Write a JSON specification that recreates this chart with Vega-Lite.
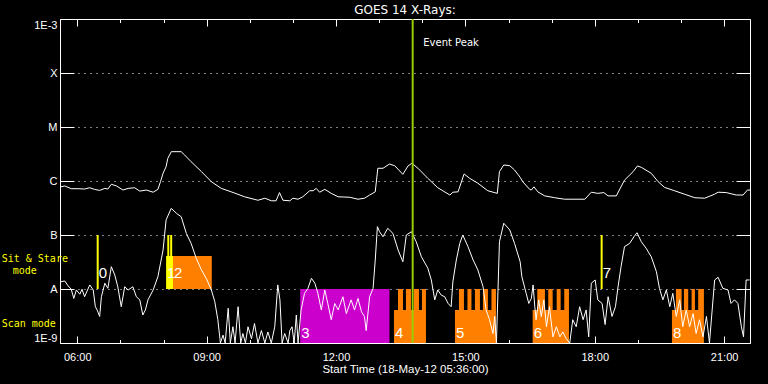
{
  "$schema": "https://vega.github.io/schema/vega-lite/v6.json",
  "width": 690,
  "height": 324,
  "autosize": {"type": "none"},
  "padding": {"left": 60, "top": 19, "right": 18, "bottom": 41},
  "background": "black",
  "config": {"view": {"stroke": "white", "strokeWidth": 1}, "font": "Liberation Sans"},
  "title": {"text": "GOES 14 X-Rays:", "color": "white", "font": "DejaVu Sans", "fontSize": 12, "fontWeight": "normal", "anchor": "middle", "baseline": "alphabetic", "offset": -8},
  "datasets": {
    "long": [
      {"hour":5.62,"flux":7.8e-7},{"hour":5.71,"flux":8.1e-7},{"hour":5.86,"flux":7.2e-7},{"hour":6.02,"flux":7.2e-7},{"hour":6.17,"flux":7.1e-7},{"hour":6.29,"flux":7.5e-7},{"hour":6.40,"flux":7.0e-7},{"hour":6.52,"flux":6.7e-7},{"hour":6.64,"flux":7.3e-7},{"hour":6.71,"flux":7.1e-7},{"hour":6.79,"flux":8.7e-7},{"hour":6.91,"flux":8.1e-7},{"hour":7.06,"flux":6.8e-7},{"hour":7.18,"flux":7.3e-7},{"hour":7.33,"flux":7.5e-7},{"hour":7.45,"flux":6.5e-7},{"hour":7.60,"flux":6.8e-7},{"hour":7.76,"flux":6.2e-7},{"hour":7.87,"flux":7.0e-7},{"hour":7.93,"flux":9.7e-7},{"hour":7.99,"flux":1.39e-6},{"hour":8.06,"flux":1.84e-6},{"hour":8.10,"flux":2.63e-6},{"hour":8.18,"flux":3.49e-6},{"hour":8.41,"flux":3.49e-6},{"hour":8.49,"flux":3.03e-6},{"hour":8.64,"flux":2.28e-6},{"hour":8.88,"flux":1.49e-6},{"hour":9.11,"flux":9.7e-7},{"hour":9.34,"flux":7.3e-7},{"hour":9.57,"flux":6.3e-7},{"hour":9.88,"flux":5.1e-7},{"hour":10.19,"flux":4.4e-7},{"hour":10.35,"flux":4.8e-7},{"hour":10.50,"flux":4.3e-7},{"hour":10.61,"flux":4.3e-7},{"hour":10.69,"flux":6.1e-7},{"hour":10.77,"flux":4.4e-7},{"hour":10.93,"flux":4.3e-7},{"hour":11.00,"flux":4.8e-7},{"hour":11.12,"flux":4.6e-7},{"hour":11.23,"flux":5.1e-7},{"hour":11.39,"flux":6.6e-7},{"hour":11.47,"flux":6.6e-7},{"hour":11.54,"flux":7.3e-7},{"hour":11.62,"flux":6.2e-7},{"hour":11.74,"flux":7.0e-7},{"hour":11.89,"flux":5.9e-7},{"hour":12.05,"flux":5.1e-7},{"hour":12.32,"flux":5.0e-7},{"hour":12.51,"flux":4.6e-7},{"hour":12.66,"flux":4.8e-7},{"hour":12.78,"flux":5.5e-7},{"hour":12.91,"flux":6.3e-7},{"hour":12.97,"flux":1.72e-6},{"hour":13.09,"flux":1.72e-6},{"hour":13.24,"flux":2.06e-6},{"hour":13.36,"flux":1.92e-6},{"hour":13.55,"flux":1.33e-6},{"hour":13.67,"flux":1.90e-6},{"hour":13.76,"flux":2.13e-6},{"hour":13.90,"flux":1.72e-6},{"hour":14.13,"flux":1.12e-6},{"hour":14.36,"flux":7.5e-7},{"hour":14.64,"flux":5.5e-7},{"hour":14.71,"flux":6.2e-7},{"hour":14.83,"flux":6.3e-7},{"hour":14.97,"flux":1.35e-6},{"hour":15.10,"flux":1.12e-6},{"hour":15.29,"flux":9.1e-7},{"hour":15.52,"flux":6.6e-7},{"hour":15.74,"flux":5.9e-7},{"hour":15.79,"flux":1.49e-6},{"hour":15.89,"flux":1.98e-6},{"hour":16.03,"flux":1.92e-6},{"hour":16.14,"flux":1.60e-6},{"hour":16.27,"flux":1.17e-6},{"hour":16.33,"flux":9.7e-7},{"hour":16.49,"flux":7.0e-7},{"hour":16.53,"flux":6.8e-7},{"hour":16.59,"flux":7.8e-7},{"hour":16.68,"flux":6.3e-7},{"hour":16.84,"flux":5.3e-7},{"hour":17.07,"flux":4.9e-7},{"hour":17.30,"flux":4.6e-7},{"hour":17.77,"flux":4.6e-7},{"hour":17.92,"flux":6.2e-7},{"hour":18.07,"flux":5.9e-7},{"hour":18.21,"flux":6.1e-7},{"hour":18.31,"flux":5.3e-7},{"hour":18.50,"flux":5.3e-7},{"hour":18.69,"flux":1.04e-6},{"hour":18.89,"flux":1.49e-6},{"hour":18.99,"flux":1.90e-6},{"hour":19.08,"flux":1.79e-6},{"hour":19.31,"flux":1.39e-6},{"hour":19.47,"flux":9.7e-7},{"hour":19.62,"flux":7.6e-7},{"hour":19.85,"flux":6.6e-7},{"hour":20.08,"flux":5.7e-7},{"hour":20.32,"flux":4.9e-7},{"hour":20.55,"flux":4.8e-7},{"hour":20.78,"flux":5.7e-7},{"hour":20.86,"flux":6.2e-7},{"hour":21.05,"flux":6.1e-7},{"hour":21.28,"flux":5.5e-7},{"hour":21.44,"flux":5.5e-7},{"hour":21.54,"flux":6.8e-7},{"hour":21.60,"flux":6.8e-7}
    ],
    "short": [
      {"hour":5.62,"flux":1.36e-8},{"hour":5.71,"flux":1.41e-8},{"hour":5.79,"flux":1.14e-8},{"hour":5.86,"flux":9.9e-9},{"hour":5.92,"flux":6.7e-9},{"hour":5.98,"flux":9.6e-9},{"hour":6.06,"flux":8.0e-9},{"hour":6.11,"flux":9.9e-9},{"hour":6.17,"flux":7.2e-9},{"hour":6.29,"flux":1.19e-8},{"hour":6.37,"flux":9.6e-9},{"hour":6.42,"flux":4.7e-9},{"hour":6.46,"flux":4.1e-9},{"hour":6.52,"flux":3.1e-9},{"hour":6.56,"flux":7.2e-9},{"hour":6.64,"flux":1.28e-8},{"hour":6.71,"flux":1.03e-8},{"hour":6.79,"flux":2.59e-8},{"hour":6.87,"flux":1.82e-8},{"hour":6.94,"flux":1.10e-8},{"hour":7.02,"flux":4.7e-9},{"hour":7.10,"flux":1.10e-8},{"hour":7.18,"flux":9.6e-9},{"hour":7.29,"flux":1.10e-8},{"hour":7.37,"flux":7.2e-9},{"hour":7.45,"flux":6.3e-9},{"hour":7.52,"flux":3.3e-9},{"hour":7.58,"flux":4.1e-9},{"hour":7.64,"flux":6.3e-9},{"hour":7.76,"flux":9.6e-9},{"hour":7.87,"flux":1.69e-8},{"hour":7.99,"flux":5.27e-8},{"hour":8.06,"flux":1.90e-7},{"hour":8.18,"flux":3.12e-7},{"hour":8.30,"flux":2.52e-7},{"hour":8.41,"flux":2.18e-7},{"hour":8.53,"flux":1.07e-7},{"hour":8.64,"flux":7.0e-8},{"hour":8.76,"flux":3.7e-8},{"hour":8.88,"flux":2.25e-8},{"hour":8.99,"flux":1.58e-8},{"hour":9.11,"flux":9.6e-9},{"hour":9.19,"flux":5.8e-9},{"hour":9.26,"flux":2.7e-9},{"hour":9.32,"flux":1.0e-9},{"hour":9.38,"flux":1.4e-9},{"hour":9.43,"flux":1.0e-9},{"hour":9.50,"flux":4.4e-9},{"hour":9.55,"flux":1.0e-9},{"hour":9.61,"flux":2.0e-9},{"hour":9.66,"flux":1.0e-9},{"hour":9.73,"flux":4.7e-9},{"hour":9.79,"flux":1.0e-9},{"hour":9.84,"flux":1.5e-9},{"hour":9.90,"flux":1.0e-9},{"hour":9.96,"flux":2.0e-9},{"hour":10.04,"flux":1.2e-9},{"hour":10.11,"flux":2.3e-9},{"hour":10.19,"flux":1.0e-9},{"hour":10.27,"flux":1.7e-9},{"hour":10.35,"flux":1.0e-9},{"hour":10.42,"flux":1.6e-9},{"hour":10.50,"flux":1.0e-9},{"hour":10.58,"flux":2.0e-9},{"hour":10.65,"flux":1.19e-8},{"hour":10.70,"flux":6.3e-9},{"hour":10.75,"flux":1.0e-9},{"hour":10.81,"flux":1.5e-9},{"hour":10.89,"flux":1.0e-9},{"hour":10.93,"flux":1.7e-9},{"hour":10.98,"flux":2.0e-9},{"hour":11.03,"flux":1.0e-9},{"hour":11.08,"flux":3.3e-9},{"hour":11.12,"flux":1.0e-9},{"hour":11.19,"flux":4.1e-9},{"hour":11.27,"flux":8.3e-9},{"hour":11.35,"flux":1.03e-8},{"hour":11.43,"flux":1.58e-8},{"hour":11.51,"flux":1.28e-8},{"hour":11.58,"flux":8.3e-9},{"hour":11.66,"flux":4.1e-9},{"hour":11.74,"flux":9.6e-9},{"hour":11.81,"flux":5.4e-9},{"hour":11.89,"flux":2.7e-9},{"hour":11.97,"flux":5.4e-9},{"hour":12.05,"flux":4.1e-9},{"hour":12.16,"flux":7.2e-9},{"hour":12.24,"flux":3.5e-9},{"hour":12.35,"flux":6.3e-9},{"hour":12.43,"flux":4.1e-9},{"hour":12.51,"flux":6.7e-9},{"hour":12.59,"flux":3.8e-9},{"hour":12.66,"flux":3.1e-9},{"hour":12.70,"flux":1.7e-9},{"hour":12.78,"flux":7.2e-9},{"hour":12.86,"flux":1.03e-8},{"hour":12.91,"flux":3.44e-8},{"hour":12.96,"flux":1.43e-7},{"hour":13.01,"flux":1.15e-7},{"hour":13.09,"flux":9.3e-8},{"hour":13.20,"flux":1.33e-7},{"hour":13.32,"flux":1.07e-7},{"hour":13.44,"flux":5.27e-8},{"hour":13.55,"flux":3.2e-8},{"hour":13.63,"flux":1.0e-7},{"hour":13.75,"flux":1.15e-7},{"hour":13.86,"flux":7.5e-8},{"hour":13.98,"flux":3.96e-8},{"hour":14.13,"flux":2.42e-8},{"hour":14.21,"flux":1.47e-8},{"hour":14.29,"flux":6.3e-9},{"hour":14.36,"flux":9.6e-9},{"hour":14.44,"flux":7.7e-9},{"hour":14.52,"flux":7.2e-9},{"hour":14.60,"flux":5.4e-9},{"hour":14.67,"flux":4.7e-9},{"hour":14.71,"flux":1.36e-8},{"hour":14.79,"flux":3.44e-8},{"hour":14.87,"flux":7.0e-8},{"hour":14.94,"flux":1.0e-7},{"hour":15.06,"flux":6.1e-8},{"hour":15.18,"flux":3.44e-8},{"hour":15.29,"flux":2.25e-8},{"hour":15.41,"flux":1.10e-8},{"hour":15.48,"flux":4.1e-9},{"hour":15.56,"flux":2.7e-9},{"hour":15.64,"flux":1.5e-9},{"hour":15.68,"flux":3.1e-9},{"hour":15.72,"flux":1.0e-9},{"hour":15.79,"flux":7.5e-8},{"hour":15.89,"flux":1.65e-7},{"hour":16.03,"flux":1.24e-7},{"hour":16.14,"flux":7.0e-8},{"hour":16.27,"flux":3.2e-8},{"hour":16.31,"flux":1.69e-8},{"hour":16.41,"flux":8.3e-9},{"hour":16.47,"flux":5.4e-9},{"hour":16.53,"flux":6.7e-9},{"hour":16.57,"flux":1.19e-8},{"hour":16.61,"flux":4.7e-9},{"hour":16.64,"flux":2.7e-9},{"hour":16.70,"flux":6.3e-9},{"hour":16.76,"flux":3.1e-9},{"hour":16.82,"flux":6.3e-9},{"hour":16.88,"flux":2.0e-9},{"hour":16.95,"flux":4.7e-9},{"hour":17.03,"flux":1.3e-9},{"hour":17.11,"flux":2.0e-9},{"hour":17.19,"flux":1.3e-9},{"hour":17.26,"flux":1.6e-9},{"hour":17.34,"flux":1.2e-9},{"hour":17.42,"flux":1.0e-9},{"hour":17.49,"flux":2.7e-9},{"hour":17.57,"flux":2.0e-9},{"hour":17.65,"flux":4.7e-9},{"hour":17.73,"flux":2.7e-9},{"hour":17.80,"flux":4.1e-9},{"hour":17.86,"flux":1.3e-9},{"hour":17.92,"flux":1.28e-8},{"hour":18.01,"flux":1.47e-8},{"hour":18.07,"flux":6.3e-9},{"hour":18.17,"flux":5.4e-9},{"hour":18.24,"flux":2.2e-9},{"hour":18.31,"flux":7.2e-9},{"hour":18.40,"flux":3.1e-9},{"hour":18.48,"flux":4.7e-9},{"hour":18.54,"flux":1.10e-8},{"hour":18.61,"flux":2.59e-8},{"hour":18.69,"flux":6.1e-8},{"hour":18.81,"flux":7.0e-8},{"hour":18.91,"flux":9.3e-8},{"hour":18.98,"flux":1.10e-7},{"hour":19.08,"flux":7.5e-8},{"hour":19.19,"flux":5.7e-8},{"hour":19.31,"flux":3.96e-8},{"hour":19.43,"flux":2.09e-8},{"hour":19.50,"flux":1.03e-8},{"hour":19.58,"flux":6.3e-9},{"hour":19.66,"flux":9.6e-9},{"hour":19.74,"flux":4.7e-9},{"hour":19.81,"flux":8.3e-9},{"hour":19.89,"flux":3.1e-9},{"hour":19.97,"flux":6.3e-9},{"hour":20.04,"flux":2.0e-9},{"hour":20.12,"flux":4.1e-9},{"hour":20.20,"flux":2.0e-9},{"hour":20.28,"flux":3.5e-9},{"hour":20.35,"flux":1.5e-9},{"hour":20.43,"flux":2.7e-9},{"hour":20.51,"flux":1.3e-9},{"hour":20.59,"flux":3.1e-9},{"hour":20.66,"flux":1.0e-9},{"hour":20.78,"flux":1.47e-8},{"hour":20.86,"flux":1.65e-8},{"hour":20.97,"flux":1.03e-8},{"hour":21.09,"flux":9.6e-9},{"hour":21.16,"flux":5.4e-9},{"hour":21.24,"flux":6.3e-9},{"hour":21.32,"flux":5.4e-9},{"hour":21.40,"flux":2.0e-9},{"hour":21.45,"flux":1.3e-9},{"hour":21.51,"flux":1.47e-8},{"hour":21.59,"flux":1.47e-8}
    ],
    "obs": [
      {"kind":"stare","start":8.06,"end":8.22,"lo":1e-8,"hi":4.08e-8},
      {"kind":"raster","start":8.22,"end":9.12,"lo":1e-8,"hi":4.08e-8},
      {"kind":"scan","start":11.17,"end":13.24,"lo":1e-9,"hi":1e-8},
      {"kind":"raster","start":13.344,"end":14.086,"lo":1e-9,"hi":4.08e-9},
      {"kind":"raster","start":13.437,"end":13.553,"lo":4.08e-9,"hi":1e-8},
      {"kind":"raster","start":13.622,"end":13.738,"lo":4.08e-9,"hi":1e-8},
      {"kind":"raster","start":13.808,"end":13.924,"lo":4.08e-9,"hi":1e-8},
      {"kind":"raster","start":13.993,"end":14.086,"lo":4.08e-9,"hi":1e-8},
      {"kind":"raster","start":14.758,"end":15.709,"lo":1e-9,"hi":4.08e-9},
      {"kind":"raster","start":14.851,"end":14.967,"lo":4.08e-9,"hi":1e-8},
      {"kind":"raster","start":15.048,"end":15.141,"lo":4.08e-9,"hi":1e-8},
      {"kind":"raster","start":15.222,"end":15.338,"lo":4.08e-9,"hi":1e-8},
      {"kind":"raster","start":15.407,"end":15.523,"lo":4.08e-9,"hi":1e-8},
      {"kind":"raster","start":15.605,"end":15.709,"lo":4.08e-9,"hi":1e-8},
      {"kind":"raster","start":16.56,"end":17.402,"lo":1e-9,"hi":4.08e-9},
      {"kind":"raster","start":16.667,"end":16.845,"lo":4.08e-9,"hi":1e-8},
      {"kind":"raster","start":16.922,"end":17.024,"lo":4.08e-9,"hi":1e-8},
      {"kind":"raster","start":17.117,"end":17.209,"lo":4.08e-9,"hi":1e-8},
      {"kind":"raster","start":17.293,"end":17.402,"lo":4.08e-9,"hi":1e-8},
      {"kind":"raster","start":19.79,"end":20.531,"lo":1e-9,"hi":4.08e-9},
      {"kind":"raster","start":19.882,"end":20.014,"lo":4.08e-9,"hi":1e-8},
      {"kind":"raster","start":20.068,"end":20.167,"lo":4.08e-9,"hi":1e-8},
      {"kind":"raster","start":20.246,"end":20.323,"lo":4.08e-9,"hi":1e-8},
      {"kind":"raster","start":20.399,"end":20.531,"lo":4.08e-9,"hi":1e-8}
    ],
    "stare": [
      {"hour":6.474,"lo":1e-8,"hi":1e-7},
      {"hour":8.111,"lo":4.08e-8,"hi":1e-7},
      {"hour":8.178,"lo":4.08e-8,"hi":1e-7},
      {"hour":18.16,"lo":1e-8,"hi":1e-7}
    ],
    "labels": [
      {"label":"0","hour":6.474,"flux":2.0e-8},
      {"label":"1","hour":8.06,"flux":2.0e-8},
      {"label":"2","hour":8.22,"flux":2.0e-8},
      {"label":"3","hour":11.17,"flux":1.56e-9},
      {"label":"4","hour":13.344,"flux":1.56e-9},
      {"label":"5","hour":14.758,"flux":1.56e-9},
      {"label":"6","hour":16.56,"flux":1.56e-9},
      {"label":"7","hour":18.16,"flux":2.0e-8},
      {"label":"8","hour":19.79,"flux":1.56e-9}
    ],
    "notes": [
      {"label":"Sit & Stare","hour":4.248,"flux":3.52e-8},
      {"label":"mode","hour":4.503,"flux":2.15e-8},
      {"label":"Scan mode","hour":4.248,"flux":2.25e-9}
    ]
  },
  "resolve": {"axis": {"x": "independent", "y": "independent"}},
  "layer": [
    {
      "data": {"name": "obs"},
      "mark": {"type": "rect"},
      "encoding": {
        "x": {"field": "start", "type": "quantitative", "scale": {"domain": [5.6, 21.6], "nice": false, "zero": false}, "axis": null},
        "x2": {"field": "end"},
        "y": {"field": "lo", "type": "quantitative", "scale": {"type": "log", "domain": [1e-9, 1e-3], "nice": false}, "axis": null},
        "y2": {"field": "hi"},
        "color": {"field": "kind", "type": "nominal", "scale": {"domain": ["stare", "raster", "scan"], "range": ["#ffff00", "#ff8000", "#cc00cc"]}, "legend": null}
      }
    },
    {
      "data": {"name": "stare"},
      "mark": {"type": "rule", "color": "#ffff00", "strokeWidth": 2},
      "encoding": {
        "x": {"field": "hour", "type": "quantitative", "scale": {"domain": [5.6, 21.6], "nice": false, "zero": false}, "axis": null},
        "y": {"field": "lo", "type": "quantitative", "scale": {"type": "log", "domain": [1e-9, 1e-3], "nice": false}, "axis": null},
        "y2": {"field": "hi"}
      }
    },
    {
      "data": {"name": "long"},
      "mark": {"type": "line", "color": "white", "strokeWidth": 1},
      "encoding": {
        "x": {"field": "hour", "type": "quantitative", "scale": {"domain": [5.6, 21.6], "nice": false, "zero": false},
          "axis": {"orient": "bottom", "values": [6,7,8,9,10,11,12,13,14,15,16,17,18,19,20,21],
            "labelExpr": "datum.value % 3 === 0 ? (datum.value < 10 ? '0' : '') + datum.value + ':00' : ''",
            "tickSize": {"condition": {"test": "datum.value % 3 === 0", "value": -7}, "value": -3.5},
            "tickColor": "white", "tickWidth": 1, "domain": false, "grid": false,
            "labelColor": "white", "labelFont": "Liberation Sans", "labelFontSize": 11, "labelPadding": 15,
            "title": "Start Time (18-May-12 05:36:00)", "titleColor": "white", "titleFont": "Liberation Sans", "titleFontSize": 11.5, "titleFontWeight": "normal", "titlePadding": 1}},
        "y": {"field": "flux", "type": "quantitative", "scale": {"type": "log", "domain": [1e-9, 1e-3], "nice": false},
          "axis": {"orient": "left", "values": [1e-9, 1e-8, 1e-7, 1e-6, 1e-5, 1e-4, 1e-3],
            "labelExpr": "['1E-9','A','B','C','M','X','1E-3'][round(log(datum.value)/LN10)+9]",
            "tickSize": -14, "tickColor": "white", "domain": false,
            "grid": true, "gridColor": "white", "gridDash": [1, 5], "gridWidth": 1,
            "labelFlush": true, "labelPadding": 17, "labelColor": "white", "labelFont": "Liberation Sans", "labelFontSize": 11, "title": null}}
      }
    },
    {
      "data": {"name": "short"},
      "mark": {"type": "line", "color": "white", "strokeWidth": 1},
      "encoding": {
        "x": {"field": "hour", "type": "quantitative", "scale": {"domain": [5.6, 21.6], "nice": false, "zero": false},
          "axis": {"orient": "top", "values": [6,7,8,9,10,11,12,13,14,15,16,17,18,19,20,21],
            "tickSize": {"condition": {"test": "datum.value % 3 === 0", "value": -7}, "value": -3.5},
            "tickColor": "white", "labels": false, "domain": false, "grid": false, "title": null}},
        "y": {"field": "flux", "type": "quantitative", "scale": {"type": "log", "domain": [1e-9, 1e-3], "nice": false},
          "axis": {"orient": "right", "values": [1e-9, 1e-8, 1e-7, 1e-6, 1e-5, 1e-4, 1e-3],
            "tickSize": -14, "tickColor": "white", "labels": false, "domain": false, "grid": false, "title": null}}
      }
    },
    {
      "data": {"values": [{"hour": 13.778}]},
      "mark": {"type": "rule", "color": "#99cc00", "strokeWidth": 2},
      "encoding": {
        "x": {"field": "hour", "type": "quantitative", "scale": {"domain": [5.6, 21.6], "nice": false, "zero": false}, "axis": null}
      }
    },
    {
      "data": {"name": "labels"},
      "mark": {"type": "text", "color": "white", "align": "left", "baseline": "middle", "dx": 1, "font": "Liberation Sans", "fontSize": 15},
      "encoding": {
        "x": {"field": "hour", "type": "quantitative", "scale": {"domain": [5.6, 21.6], "nice": false, "zero": false}, "axis": null},
        "y": {"field": "flux", "type": "quantitative", "scale": {"type": "log", "domain": [1e-9, 1e-3], "nice": false}, "axis": null},
        "text": {"field": "label"}
      }
    },
    {
      "data": {"values": [{"label": "Event Peak", "hour": 14.023, "flux": 3.6e-4}]},
      "mark": {"type": "text", "color": "white", "align": "left", "baseline": "middle", "font": "DejaVu Sans", "fontSize": 10},
      "encoding": {
        "x": {"field": "hour", "type": "quantitative", "scale": {"domain": [5.6, 21.6], "nice": false, "zero": false}, "axis": null},
        "y": {"field": "flux", "type": "quantitative", "scale": {"type": "log", "domain": [1e-9, 1e-3], "nice": false}, "axis": null},
        "text": {"field": "label"}
      }
    },
    {
      "data": {"name": "notes"},
      "mark": {"type": "text", "color": "#ffff00", "align": "left", "baseline": "middle", "font": "DejaVu Sans Mono", "fontSize": 10},
      "encoding": {
        "x": {"field": "hour", "type": "quantitative", "scale": {"domain": [5.6, 21.6], "nice": false, "zero": false}, "axis": null},
        "y": {"field": "flux", "type": "quantitative", "scale": {"type": "log", "domain": [1e-9, 1e-3], "nice": false}, "axis": null},
        "text": {"field": "label"}
      }
    }
  ]
}
